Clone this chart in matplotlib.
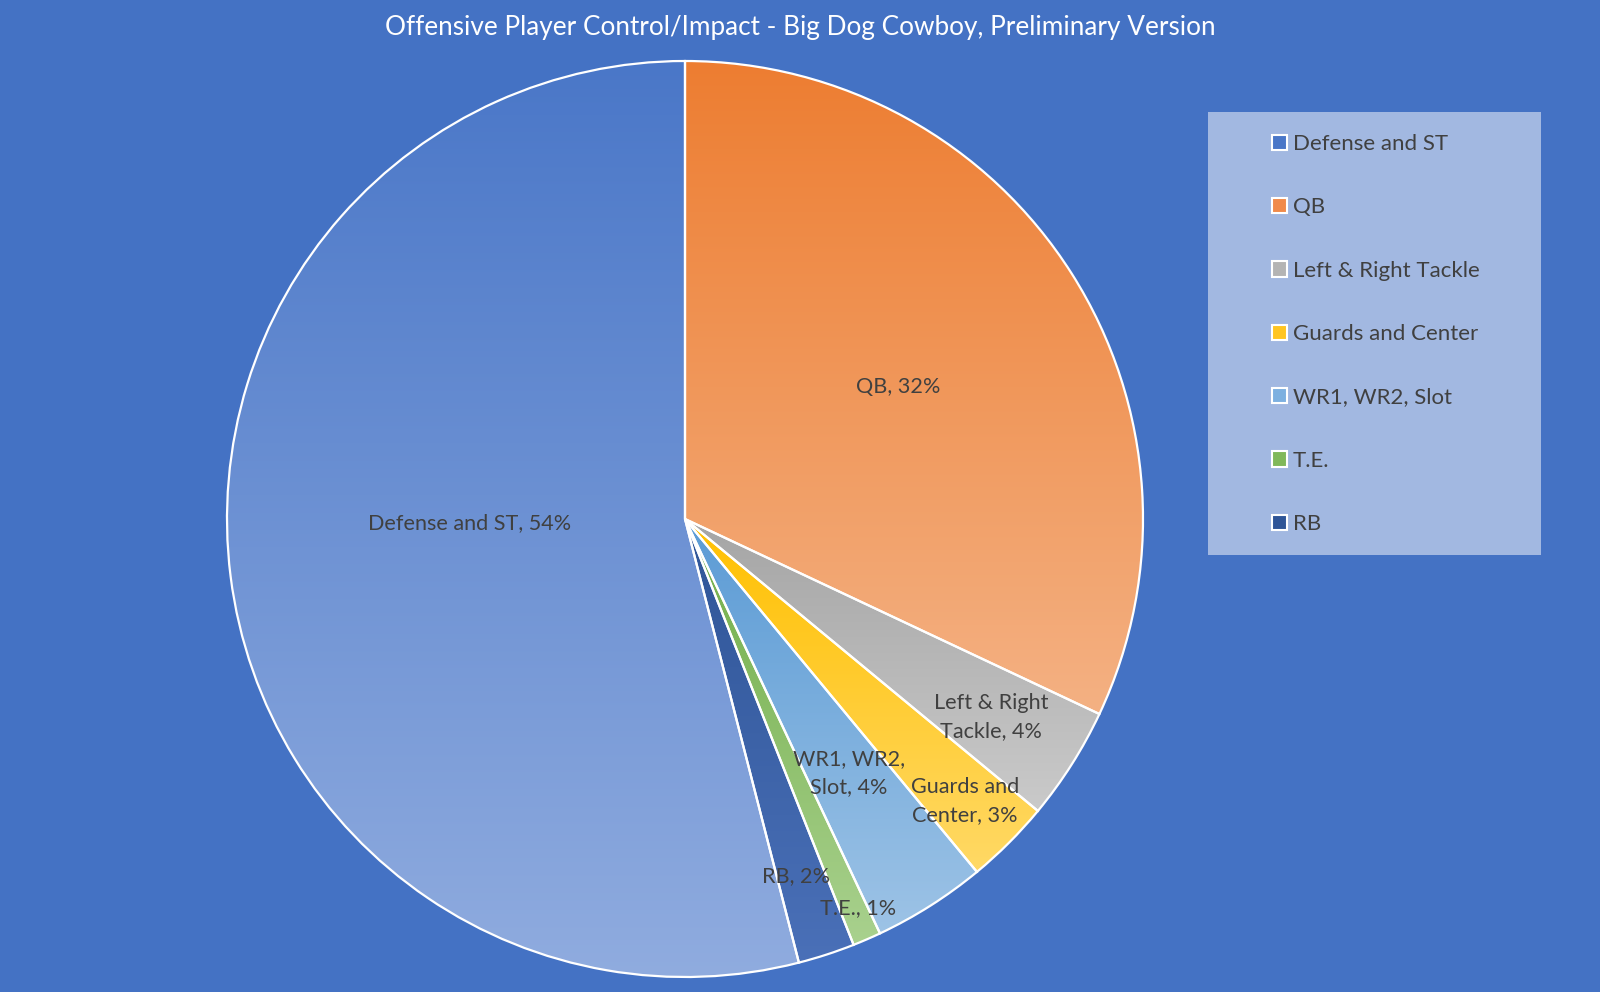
import matplotlib
matplotlib.use("Agg")
import matplotlib.pyplot as plt
import numpy as np
from matplotlib.colors import to_rgba
from matplotlib.patches import Patch, Rectangle

# ---- data ----
categories = ["Defense and ST", "QB", "Left & Right Tackle", "Guards and Center",
              "WR1, WR2, Slot", "T.E.", "RB"]
values = [54, 32, 4, 3, 4, 1, 2]
label_texts = ["Defense and ST, 54%", "QB, 32%", "Left & Right\nTackle, 4%",
               "Guards and\nCenter, 3%", "WR1, WR2,\nSlot, 4%", "T.E., 1%", "RB, 2%"]
top_colors = ["#4a77c8", "#ed7d31", "#a5a5a5", "#ffc000", "#5b9bd5", "#70ad47", "#2f5597"]
bottom_colors = ["#90acdf", "#f4b183", "#cacaca", "#ffd966", "#9dc3e6", "#a9d18e", "#4a70b8"]
legend_colors = ["#4a77c8", "#f08a4b", "#b4b4b4", "#ffc522", "#7db0e0", "#80b85a", "#2f5597"]

# label positions relative to pie (unit radius)
label_pos = [(-0.47, -0.01), (0.465, 0.288), (0.668, -0.432), (0.611, -0.616),
             (0.358, -0.555), (0.378, -0.849), (0.242, -0.779)]

BG = "#4472c4"
TXT = "#404040"
plt.rcParams['font.family'] = ['Lato', 'DejaVu Sans']

W, H = 1600, 992
fig = plt.figure(figsize=(W / 100, H / 100), dpi=100, facecolor=BG)

cx, cy, r = 685, 519, 458
ax = fig.add_axes([(cx - r) / W, (H - cy - r) / H, 2 * r / W, 2 * r / H])
ax.set_facecolor("none")

# order drawn clockwise from 12 o'clock: QB, Tackle, Guards, WR, TE, RB, Defense
order = [1, 2, 3, 4, 5, 6, 0]
vals_ordered = [values[i] for i in order]
wedges, _ = ax.pie(vals_ordered, startangle=90, counterclock=False, radius=1,
                   center=(0, 0),
                   wedgeprops=dict(edgecolor="white", linewidth=1.6, facecolor="none"))
ax.set_aspect("equal")
ax.axis("off")

for w, idx in zip(wedges, order):
    verts = w.get_path().vertices
    xmin, ymin = verts.min(axis=0)
    xmax, ymax = verts.max(axis=0)
    c1 = np.array(to_rgba(top_colors[idx]))
    c2 = np.array(to_rgba(bottom_colors[idx]))
    t = np.linspace(0, 1, 256)[:, None]
    grad = (c1[None, :] * (1 - t) + c2[None, :] * t)[:, None, :]
    im = ax.imshow(grad, extent=[xmin, xmax, ymin, ymax], origin="upper",
                   aspect="auto", zorder=1, interpolation="bilinear")
    im.set_clip_path(w)
    w.set_zorder(2)

ax.set_xlim(-1.0, 1.0)
ax.set_ylim(-1.0, 1.0)

for (x, y), txt in zip(label_pos, label_texts):
    ax.text(x, y, txt, ha="center", va="center", fontsize=15.6, color=TXT,
            linespacing=1.5, zorder=3)

# title
fig.text(0.5, 1 - 27 / H, "Offensive Player Control/Impact - Big Dog Cowboy, Preliminary Version",
         ha="center", va="center", color="white", fontsize=18.8)

# legend box
lx0, ly0, lx1, ly1 = 1208, 112, 1541, 555
fig.patches.append(Rectangle((lx0 / W, 1 - ly1 / H), (lx1 - lx0) / W, (ly1 - ly0) / H,
                             transform=fig.transFigure, facecolor="#a2b8e1",
                             edgecolor="none", zorder=0))
handles = [Patch(facecolor=c, edgecolor="white", linewidth=1.5) for c in legend_colors]
fig.legend(handles, categories, loc="upper left",
           bbox_to_anchor=(1272 / W, 1 - 134 / H), frameon=False,
           fontsize=16, labelcolor=TXT, labelspacing=1.95,
           handlelength=0.68, handleheight=0.68, handletextpad=0.27,
           borderpad=0, borderaxespad=0)

fig.savefig("out.png", dpi=100, facecolor=BG)
